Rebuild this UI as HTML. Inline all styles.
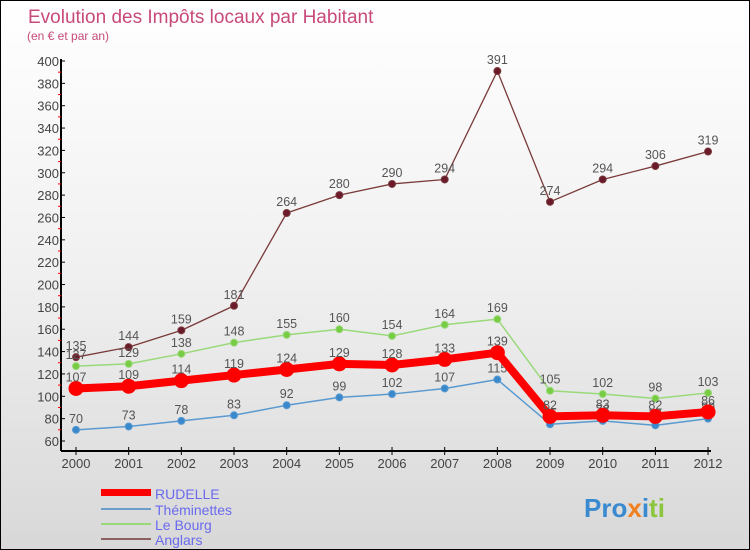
<!DOCTYPE html>
<html><head><meta charset="utf-8">
<style>
body{margin:0;}
#c{width:748px;height:548px;border:1px solid #000;background:linear-gradient(#fff 0%,#f0f0f0 50%,#d8d8d8 100%);position:relative;overflow:hidden;font-family:"Liberation Sans",sans-serif;}
svg text{font-family:"Liberation Sans",sans-serif;}
</style></head><body>
<div id="c">
<svg id="s" width="748" height="548" xmlns="http://www.w3.org/2000/svg">
<text x="27" y="22" font-size="19" fill="#c84a7a">Evolution des Impôts locaux par Habitant</text>
<text x="26" y="39" font-size="12" fill="#c84a7a">(en € et par an)</text>
<g id="axes"></g><g id="series"></g>
<g>
<rect x="100" y="488" width="50" height="7" fill="#f00"/>
<text x="154" y="498" font-size="14" fill="#6a6aee">RUDELLE</text>
<rect x="100" y="507" width="50" height="2" fill="#6a9ec8"/>
<text x="154" y="514" font-size="14" fill="#6a6aee">Théminettes</text>
<rect x="100" y="522" width="50" height="2" fill="#99d97a"/>
<text x="154" y="529" font-size="14" fill="#6a6aee">Le Bourg</text>
<rect x="100" y="537" width="50" height="2" fill="#8a6060"/>
<text x="154" y="544" font-size="14" fill="#6a6aee">Anglars</text>
</g>
<text x="583" y="516" font-size="26" font-weight="bold" fill="#3a8ad0">Pro<tspan fill="#f08020">x</tspan><tspan fill="#3a8ad0">i</tspan><tspan fill="#8cc63f">ti</tspan></text>
</svg>
</div>
<script>
const years=[2000,2001,2002,2003,2004,2005,2006,2007,2008,2009,2010,2011,2012];
const yTicks=[60,80,100,120,140,160,180,200,220,240,260,280,300,320,340,360,380,400];
const rudelle=[107,109,114,119,124,129,128,133,139,82,83,82,86];
const theminettes=[70,73,78,83,92,99,102,107,115,75,78,74,80];
const leBourg=[127,129,138,148,155,160,154,164,169,105,102,98,103];
const anglars=[135,144,159,181,264,280,290,294,391,274,294,306,319];
const NS="http://www.w3.org/2000/svg";
const xs=i=>75+i*52.67;
const ys=v=>440-(v-60)*380/340;
const ax=document.getElementById('axes'),se=document.getElementById('series');
function mk(t,a,p){const e=document.createElementNS(NS,t);for(const k in a)e.setAttribute(k,a[k]);p.appendChild(e);return e;}
let l=mk('line',{x1:60,y1:58,x2:60,y2:450,stroke:'#000','stroke-width':2},ax);


l=mk('line',{x1:60,y1:450,x2:710,y2:450,stroke:'#000','stroke-width':2},ax);


yTicks.forEach(v=>{
 const y=ys(v);
 let t=mk('line',{x1:60,y1:y,x2:64,y2:y,stroke:'#000'},ax);
 
 
 if(v<400){let m=mk('line',{x1:57,y1:ys(v+10),x2:60,y2:ys(v+10),stroke:'#f00'},ax);
 
 }
 let tx=mk('text',{x:58,y:y+5,'font-size':13,fill:'#444','text-anchor':'end'},ax);tx.textContent=v;
 
 
});
years.forEach((yr,i)=>{
 let t=mk('line',{x1:xs(i),y1:446,x2:xs(i),y2:454,stroke:'#000'},ax);
 
 
 let tx=mk('text',{x:xs(i),y:467,'font-size':13,fill:'#444','text-anchor':'middle'},ax);tx.textContent=yr;
 
 
});
function series(d,name,col,w,r,dot){
 const g=mk('g',{},se);
 
 
 const p=mk('polyline',{points:d.map((v,i)=>xs(i)+','+ys(v)).join(' '),fill:'none',stroke:col,'stroke-width':w,'stroke-linejoin':'round'},g);
 
 
 d.forEach((v,i)=>{
  const c=mk('circle',{cx:xs(i),cy:ys(v),r:r,fill:dot,stroke:col,'stroke-width':1},g);
  
  
  const t=mk('text',{x:xs(i),y:ys(v)-7,'font-size':12.5,fill:'#555','text-anchor':'middle'},g);t.textContent=v;
  
  
 });
}
series(anglars,'anglars','#7a3a3a',1.3,3.5,'#6a1a2a');
series(leBourg,'le-bourg','#99d97a',1.5,3.5,'#77cc44');
series(theminettes,'theminettes','#5a9ad0',1.5,3.5,'#3a88cc');
series(rudelle,'rudelle','#f00',8,7,'#f00');
</script>
</body></html>
